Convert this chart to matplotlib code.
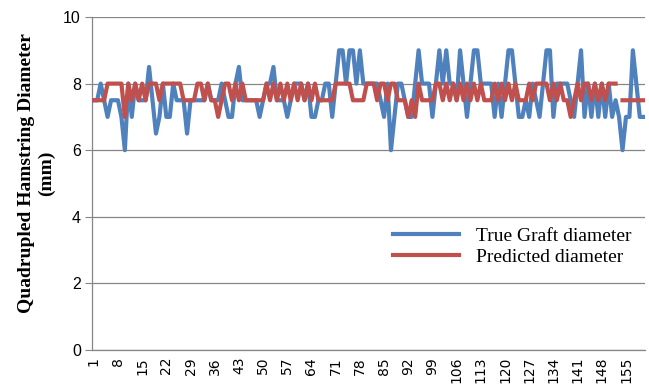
import numpy as np
import matplotlib
matplotlib.use("Agg")
import matplotlib.pyplot as plt

# values (160 cases)
true_diam = [
    7.5, 7.5, 8, 7.5, 7, 7.5, 7.5, 7.5, 7, 6,
    8, 7, 8, 7.5, 7.5, 7.5, 8.5, 7.5, 6.5, 7,
    8, 7, 7, 8, 7.5, 7.5, 7.5, 6.5, 7.5, 7.5,
    7.5, 7.5, 7.5, 8, 7.5, 7.5, 7.5, 8, 7.5, 7,
    7, 8, 8.5, 7.5, 7.5, 7.5, 7.5, 7.5, 7, 7.5,
    8, 8, 8.5, 7.5, 7.5, 7.5, 7, 7.5, 8, 8,
    8, 7.5, 8, 7, 7, 7.5, 7.5, 8, 8, 7,
    8, 9, 9, 8, 9, 9, 8, 9, 8, 8,
    8, 8, 8, 7.5, 7, 8, 6, 7, 8, 8,
    7.5, 7, 7, 8, 9, 8, 8, 8, 7, 8,
    9, 8, 9, 8, 8, 7.5, 9, 8, 7, 8,
    9, 9, 8, 8, 8, 8, 7, 8, 7, 8,
    9, 9, 8, 7, 7, 7.5, 7, 8, 7.5, 7,
    8, 9, 9, 7, 8, 8, 8, 8, 7.5, 7,
    8, 9, 7, 8, 7, 8, 7, 8, 7, 8,
    7, 7.5, 7, 6, 7, 7, 9, 8, 7, 7,
]
pred_diam = [
    7.5, 7.5, 7.5, 7.5, 8, 8, 8, 8, 8, 7,
    8, 7.5, 8, 7.5, 8, 7.5, 8, 8, 8, 7.5,
    8, 8, 8, 8, 8, 8, 7.5, 7.5, 7.5, 7.5,
    8, 8, 7.5, 8, 7.5, 7.5, 7, 7.5, 8, 8,
    7.5, 8, 7.5, 8, 7.5, 7.5, 7.5, 7.5, 7.5, 7.5,
    8, 7.5, 8, 7.5, 8, 7.5, 8, 7.5, 8, 7.5,
    8, 7.5, 8, 7.5, 8, 7.5, 7.5, 7.5, 7.5, 7.5,
    8, 8, 8, 8, 8, 7.5, 7.5, 7.5, 7.5, 8,
    8, 8, 7.5, 8, 8, 7.5, 8, 8, 7.5, 7.5,
    7.5, 7, 7.5, 7, 8, 7.5, 7.5, 7.5, 7.5, 8,
    8, 7.5, 8, 7.5, 8, 7.5, 8, 7.5, 8, 7.5,
    8, 7.5, 8, 7.5, 7.5, 7.5, 8, 7.5, 8, 7.5,
    8, 7.5, 8, 7.5, 7.5, 7.5, 8, 7.5, 8, 8,
    8, 8, 7.5, 8, 7.5, 8, 7.5, 7.5, 7, 7.5,
    8, 7.5, 8, 8, 7.5, 8, 7.5, 8, 7.5, 8,
    8, 8, np.nan, 7.5, 7.5, 7.5, 7.5, 7.5, 7.5, 7.5,
]
cases = np.arange(1, len(true_diam) + 1)
xtick_vals = np.arange(1, 156, 7)
ytick_vals = [0, 2, 4, 6, 8, 10]

fig = plt.figure(figsize=(6.49, 3.91), dpi=100)
ax = fig.add_axes([0.1418, 0.1049, 0.852, 0.8516])

ax.plot(cases, true_diam, color="#4F81BD", lw=3, label="True Graft diameter", zorder=3)
ax.plot(cases, pred_diam, color="#C0504D", lw=3, label="Predicted diameter", zorder=4)

ax.set_xlim(0.5, len(cases) + 0.5)
ax.set_ylim(0, 10)
ax.set_yticks(ytick_vals)
ax.set_xticks(xtick_vals)
ax.set_xticklabels([str(v) for v in xtick_vals], rotation=90, fontsize=10,
                   family="DejaVu Sans")
ax.tick_params(axis="x", length=0, pad=5)
ax.tick_params(axis="y", length=5, color="#868686", labelsize=11.5, pad=3)
for lab in ax.get_yticklabels():
    lab.set_family("Liberation Sans")

ax.grid(axis="y", color="#868686", lw=0.9)
ax.set_axisbelow(True)
for side in ["top", "right"]:
    ax.spines[side].set_visible(False)
for side in ["left", "bottom"]:
    ax.spines[side].set_color("#868686")
    ax.spines[side].set_linewidth(0.9)

ax.set_ylabel("Quadrupled Hamstring Diameter\n(mm)", family="Liberation Serif",
              fontweight="bold", fontsize=14)
ax.yaxis.set_label_coords(-0.067, 0.53)

ax.legend(loc="center left", bbox_to_anchor=(0.512, 0.31), frameon=False,
          prop={"family": "Liberation Serif", "size": 14}, handlelength=3.4,
          handletextpad=0.9, labelspacing=0.15)

fig.savefig("out.png", dpi=100)
